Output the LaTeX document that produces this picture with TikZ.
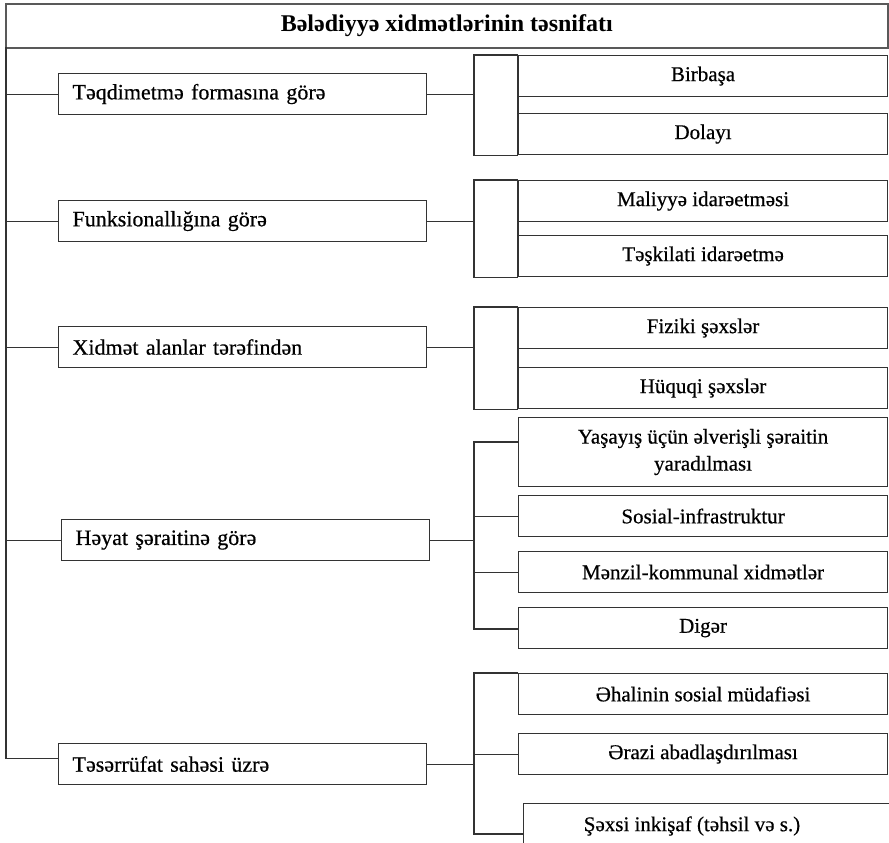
\documentclass[tikz,border=0pt]{standalone}
\usepackage{fontspec}
\setmainfont[FakeBold=0.5, BoldFont={Liberation Serif Bold}, BoldFeatures={FakeBold=0}]{Liberation Serif}
\begin{document}
\begin{tikzpicture}[x=1pt,y=-1pt,
  ln/.style={line width=1.1pt, draw=black!80, line join=miter},
  titlebox/.style={draw=black!65, line width=1.6pt, anchor=north west, minimum width=882pt, minimum height=44pt, inner sep=0pt, font=\fontsize{24}{28}\selectfont\bfseries},
  lbox/.style={draw=black!80, line width=1.1pt, anchor=north west, minimum height=41pt, inner xsep=14pt, inner ysep=0pt, text width=340pt, align=left, font=\fontsize{22}{26}\selectfont},
  rbox/.style={draw=black!80, line width=1.1pt, anchor=north west, minimum width=369pt, minimum height=41pt, inner sep=0pt, align=center, font=\fontsize{21}{27}\selectfont},
  txt/.style={inner sep=0pt, font=\fontsize{21}{27}\selectfont}
]
\useasboundingbox (0,0) rectangle (889,843);
\fill[white] (0,0) rectangle (889,843);
\clip (0,0) rectangle (889,843);

% title
\node[titlebox] (T) at (5,3) {Bələdiyyə xidmətlərinin təsnifatı};

% left boxes
\node[lbox] (L1) at (58,73) {Təqdimetmə formasına görə};
\node[lbox] (L2) at (58,200) {Funksionallığına görə};
\node[lbox] (L3) at (58,326) {Xidmət alanlar tərəfindən};
\node[lbox] (L4) at (61,519) {Həyat şəraitinə görə};
\node[lbox] (L5) at (58,743) {Təsərrüfat sahəsi üzrə};

% right boxes
\node[rbox] (R11) at (518,55) {Birbaşa};
\node[rbox] (R12) at (518,113) {Dolayı};
\node[rbox] (R21) at (518,180) {Maliyyə idarəetməsi};
\node[rbox] (R22) at (518,235) {Təşkilati idarəetmə};
\node[rbox] (R31) at (518,307) {Fiziki şəxslər};
\node[rbox] (R32) at (518,367) {Hüquqi şəxslər};
\node[rbox, minimum height=69pt] (R41) at (518,417) {Yaşayış üçün əlverişli şəraitin\\yaradılması};
\node[rbox] (R42) at (518,495) {Sosial-infrastruktur};
\node[rbox] (R43) at (518,551) {Mənzil-kommunal xidmətlər};
\node[rbox] (R44) at (518,607) {Digər};
\node[rbox] (R51) at (518,673) {Əhalinin sosial müdafiəsi};
\node[rbox] (R52) at (518,733) {Ərazi abadlaşdırılması};
\node[rbox, minimum width=380pt] (R53) at (523,803) {};
\node[txt] (R53t) at (692,826) {Şəxsi inkişaf (təhsil və s.)};

% trunk
\coordinate (tr) at (6,47);
\draw[ln] (tr) |- ([yshift=6pt]L5.west);
\foreach \n in {L1,L2,L3,L4}{\draw[ln] (\n.west) -- (\n.west -| tr);}

% bracket column
\coordinate (xb) at (474,0);
\coordinate (b4t) at (474,442); \coordinate (b4b) at (474,629);
\coordinate (b5b) at (474,834);

% groups 1-3 (closed brackets)
\foreach \l/\a/\b in {L1/R11/R12, L2/R21/R22, L3/R31/R32}{
  \draw[ln] (\l.east) -- (\l.east -| xb);
  \draw[ln] (\a.north west) -- (\a.north west -| xb) -- (\b.south west -| xb) -- (\b.south west);
  \draw[ln] (\a.north west) -- (\b.south west);
}
% group 4
\draw[ln] (L4.east) -- (L4.east -| xb);
\draw[ln] (b4t -| R41.west) -- (b4t) -- (b4b) -- (b4b -| R44.west);
\draw[ln] (R42.west) -- (R42.west -| xb);
\draw[ln] (R43.west) -- (R43.west -| xb);
% group 5
\draw[ln] (L5.east) -- (L5.east -| xb);
\draw[ln] (R51.north west) -- (R51.north west -| xb) -- (b5b) -- (b5b -| R53.west);
\draw[ln] (R52.west) -- (R52.west -| xb);
\end{tikzpicture}
\end{document}
